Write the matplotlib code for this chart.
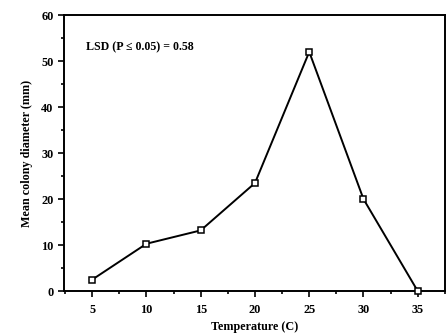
import matplotlib
matplotlib.use("Agg")
import matplotlib.pyplot as plt
from matplotlib.ticker import MultipleLocator

temperature = [5, 10, 15, 20, 25, 30, 35]
diameter = [2.5, 10.3, 13.2, 23.5, 52.0, 20.0, 0.0]
x_ticks = [5, 10, 15, 20, 25, 30, 35]
y_ticks = [0, 10, 20, 30, 40, 50, 60]

plt.rcParams['font.family'] = ['Liberation Serif', 'DejaVu Serif']

fig = plt.figure(figsize=(4.46, 3.35), dpi=100)
ax = fig.add_axes([0.1435, 0.131, 0.854, 0.824])
ax.plot(temperature, diameter, color='black', lw=1.4, marker='s', ms=4.2,
        mfc='white', mec='black', mew=1.1, clip_on=False, zorder=3)

ax.set_xlim(2.4, 37.5)
ax.set_ylim(0, 60)
ax.set_xticks(x_ticks)
ax.set_yticks(y_ticks)
ax.xaxis.set_minor_locator(MultipleLocator(2.5))
ax.yaxis.set_minor_locator(MultipleLocator(5))
ax.tick_params(axis='both', which='major', direction='out', length=4, width=1.2,
               labelsize=8.8)
ax.tick_params(axis='x', which='major', pad=5)
ax.tick_params(axis='both', which='minor', direction='out', length=2.5, width=1.2)
for lab in ax.get_xticklabels() + ax.get_yticklabels():
    lab.set_fontweight('bold')
for s in ax.spines.values():
    s.set_linewidth(1.4)

ax.set_xlabel('Temperature (C)', fontsize=8.7, fontweight='bold', labelpad=4)
ax.set_ylabel('Mean colony diameter (mm)', fontsize=8.7, fontweight='bold', labelpad=6)
ax.text(0.058, 0.885, 'LSD (P \u2264 0.05) = 0.58', transform=ax.transAxes,
        fontsize=8.6, fontweight='bold', va='center', ha='left')

fig.savefig('out.png', dpi=100)
